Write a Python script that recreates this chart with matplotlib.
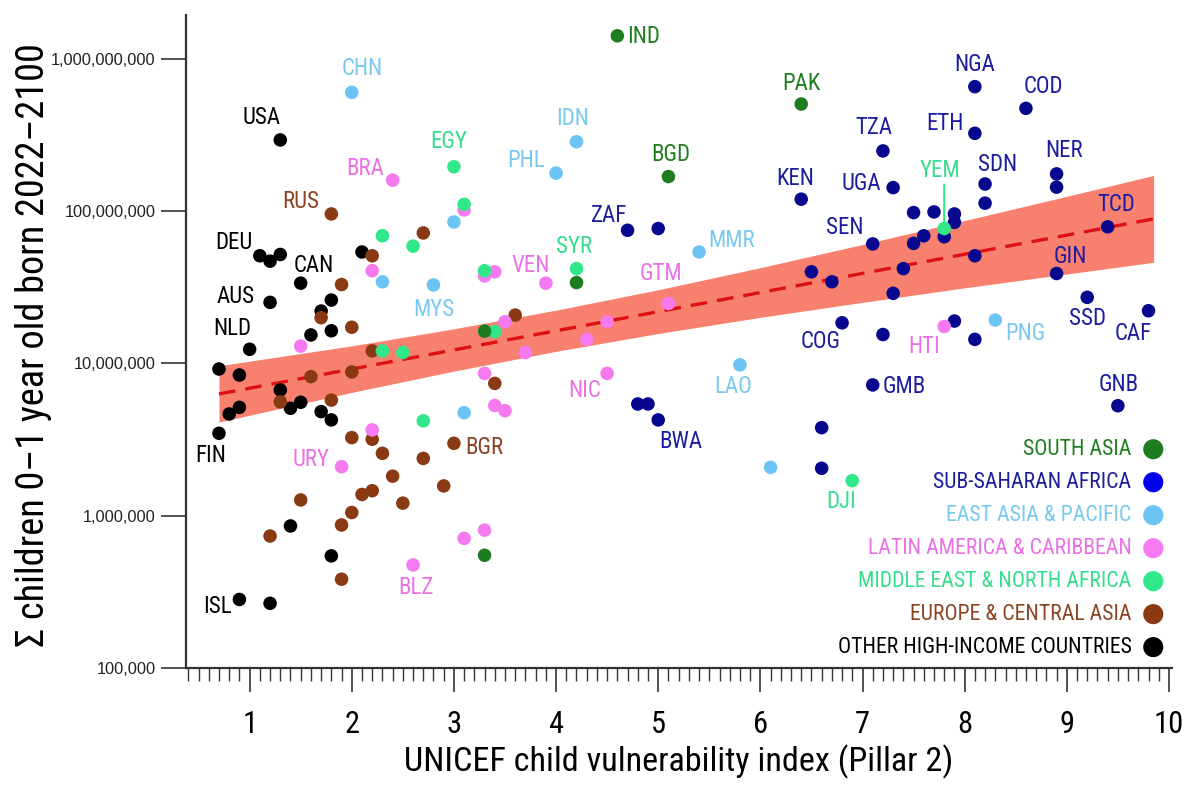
import matplotlib
matplotlib.use("Agg")
import matplotlib.pyplot as plt
from matplotlib.ticker import MultipleLocator, FixedLocator, FuncFormatter, NullLocator

plt.rcParams['font.family'] = ['Roboto Condensed', 'Open Sans Condensed', 'DejaVu Sans']
plt.rcParams['font.stretch'] = 'condensed'

# --- data (x = UNICEF child vulnerability index, y = children born 2022-2100)
# South Asia
sa_x = [4.6, 6.4, 5.1, 3.3, 4.2, 3.3]
sa_y = [1.42e9, 5.06e8, 1.69e8, 1.63e7, 3.4e7, 5.5e5]
sa_code = ['IND', 'PAK', 'BGD', '', '', '']

# Sub-Saharan Africa
ssa_x = [8.1, 8.6, 8.1, 7.2, 7.3, 6.4, 8.2, 8.2, 8.9, 8.9,
         7.5, 7.7, 7.9, 7.9, 7.8, 7.6, 7.5, 7.1, 8.1, 9.4,
         7.4, 6.5, 6.7, 8.9, 7.3, 9.2, 9.8, 6.8, 7.2, 7.9,
         8.1, 7.1, 9.5, 6.6, 6.6, 4.7, 5.0, 4.8, 4.9, 5.0]
ssa_y = [6.58e8, 4.74e8, 3.25e8, 2.49e8, 1.43e8, 1.2e8, 1.51e8, 1.13e8, 1.76e8, 1.44e8,
         9.8e7, 9.9e7, 9.6e7, 8.45e7, 6.8e7, 6.9e7, 6.15e7, 6.1e7, 5.1e7, 7.9e7,
         4.2e7, 4.0e7, 3.44e7, 3.9e7, 2.89e7, 2.72e7, 2.22e7, 1.85e7, 1.55e7, 1.9e7,
         1.44e7, 7.23e6, 5.28e6, 3.79e6, 2.05e6, 7.5e7, 7.7e7, 5.42e6, 5.42e6, 4.26e6]
ssa_code = ['NGA', 'COD', 'ETH', 'TZA', 'UGA', 'KEN', 'SDN', '', 'NER', '',
            '', '', '', '', '', '', '', 'SEN', '', 'TCD',
            '', '', '', 'GIN', '', 'SSD', 'CAF', 'COG', '', '',
            '', 'GMB', 'GNB', '', '', 'ZAF', '', '', '', 'BWA']

# East Asia & Pacific
eap_x = [2.0, 4.2, 4.0, 3.0, 2.3, 2.8, 5.4, 5.8, 8.3, 3.1, 6.1]
eap_y = [6.04e8, 2.86e8, 1.78e8, 8.5e7, 3.44e7, 3.28e7, 5.4e7, 9.8e6, 1.93e7, 4.75e6, 2.08e6]
eap_code = ['CHN', 'IDN', 'PHL', '', '', 'MYS', 'MMR', 'LAO', 'PNG', '', '']

# Latin America & Caribbean
lac_x = [2.4, 3.1, 2.2, 3.3, 3.4, 3.9, 1.5, 3.5, 3.7, 5.1, 4.5,
         4.3, 4.5, 3.3, 3.4, 3.5, 2.2, 1.9, 3.3, 3.1, 2.6, 7.8]
lac_y = [1.6e8, 1.02e8, 4.07e7, 3.76e7, 4.0e7, 3.37e7, 1.3e7, 1.88e7, 1.18e7, 2.48e7, 1.88e7,
         1.44e7, 8.6e6, 8.6e6, 5.3e6, 4.9e6, 3.66e6, 2.1e6, 8.05e5, 7.1e5, 4.75e5, 1.75e7]
lac_code = ['BRA', '', '', '', '', 'VEN', '', '', '', 'GTM', '',
            '', 'NIC', '', '', '', '', 'URY', '', '', 'BLZ', 'HTI']

# Middle East & North Africa
mena_x = [3.0, 3.1, 2.3, 2.6, 3.3, 4.2, 3.4, 2.3, 2.5, 2.7, 7.8, 6.9]
mena_y = [1.96e8, 1.11e8, 6.9e7, 5.9e7, 4.07e7, 4.2e7, 1.62e7, 1.21e7, 1.18e7, 4.2e6, 7.7e7, 1.7e6]
mena_code = ['EGY', '', '', '', '', 'SYR', '', '', '', '', 'YEM', 'DJI']

# Europe & Central Asia
eca_x = [1.8, 2.7, 2.2, 1.9, 1.7, 2.0, 3.6, 2.2, 1.6, 2.0, 3.4, 1.3, 1.8, 2.0,
         2.2, 3.0, 2.3, 2.7, 2.4, 2.9, 2.1, 2.2, 2.5, 1.5, 2.0, 1.9, 1.2, 1.9]
eca_y = [9.6e7, 7.2e7, 5.1e7, 3.3e7, 2.0e7, 1.73e7, 2.08e7, 1.21e7, 8.2e6, 8.8e6, 7.4e6, 5.6e6, 5.75e6, 3.26e6,
         3.18e6, 2.99e6, 2.57e6, 2.38e6, 1.82e6, 1.57e6, 1.38e6, 1.46e6, 1.21e6, 1.27e6, 1.05e6, 8.7e5, 7.36e5, 3.83e5]
eca_code = ['RUS', '', '', '', '', '', '', '', '', '', '', '', '', '',
            '', 'BGR', '', '', '', '', '', '', '', '', '', '', '', '']

# Other high-income countries
hic_x = [1.3, 2.1, 1.1, 1.2, 1.3, 1.5, 1.2, 1.8, 1.7, 1.6, 1.8, 1.0, 0.7,
         0.9, 1.3, 0.8, 0.9, 1.4, 1.5, 1.7, 1.8, 0.7, 1.4, 1.8, 0.9, 1.2]
hic_y = [2.94e8, 5.4e7, 5.1e7, 4.7e7, 5.2e7, 3.37e7, 2.52e7, 2.61e7, 2.21e7, 1.54e7, 1.64e7, 1.24e7, 9.2e6,
         8.4e6, 6.7e6, 4.66e6, 5.15e6, 5.08e6, 5.56e6, 4.83e6, 4.26e6, 3.48e6, 8.57e5, 5.45e5, 2.82e5, 2.66e5]
hic_code = ['USA', '', 'DEU', '', '', 'CAN', 'AUS', '', '', '', '', 'NLD', '',
            '', '', '', '', '', '', '', '', 'FIN', '', '', 'ISL', '']

# fitted trend and its confidence band
trend_x = [0.7, 9.85]
trend_y = [6.31e6, 8.91e7]
band_x = [0.7, 2, 3, 4, 5, 6, 7, 8, 9, 9.85]
band_lo = [4.12e6, 6.46e6, 8.91e6, 1.202e7, 1.574e7, 2.01e7, 2.52e7, 3.14e7, 3.87e7, 4.62e7]
band_hi = [9.66e6, 1.306e7, 1.69e7, 2.24e7, 3.05e7, 4.26e7, 6.05e7, 8.69e7, 1.253e8, 1.718e8]

region_names = ['SOUTH ASIA', 'SUB-SAHARAN AFRICA', 'EAST ASIA & PACIFIC',
                'LATIN AMERICA & CARIBBEAN', 'MIDDLE EAST & NORTH AFRICA',
                'EUROPE & CENTRAL ASIA', 'OTHER HIGH-INCOME COUNTRIES']

# --- styles
dot_col = {'SA': '#1e7d1e', 'SSA': '#08088f', 'EAP': '#6cc4f4', 'LAC': '#f57af0',
           'MENA': '#30e88a', 'ECA': '#8a3a12', 'HIC': '#000000'}
txt_col = {'SA': '#1e7d1e', 'SSA': '#1c1c9e', 'EAP': '#78c8f0', 'LAC': '#ea70e6',
           'MENA': '#35de8c', 'ECA': '#8b4322', 'HIC': '#000000'}
legend_dot = ['#1e7d1e', '#0000ee', '#6cc4f4', '#f57af0', '#30e88a', '#8a3a12', '#000000']
legend_txt = ['#1e7d1e', '#1c1c9e', '#78c8f0', '#ea70e6', '#35de8c', '#8b4322', '#000000']

# label offsets in pixels (dx, dy) and horizontal alignment
lab_off = {
    'IND': (10, -1, 'left'), 'PAK': (0, 21, 'center'), 'BGD': (2, 22, 'center'),
    'CHN': (10, 24, 'center'), 'IDN': (-4, 23, 'center'), 'PHL': (-11, 13, 'right'),
    'MYS': (0, -25, 'center'), 'MMR': (9, 11, 'left'), 'LAO': (-7, -22, 'center'),
    'PNG': (10, -13, 'left'),
    'BRA': (-9, 12, 'right'), 'VEN': (-15, 18, 'center'), 'GTM': (-7, 30, 'center'),
    'NIC': (-23, -17, 'center'), 'URY': (-12, 7, 'right'), 'BLZ': (3, -23, 'center'),
    'HTI': (-20, -20, 'center'),
    'EGY': (-5, 25, 'center'), 'SYR': (-2, 22, 'center'), 'YEM': (-4, 58, 'center'),
    'DJI': (-11, -21, 'center'),
    'RUS': (-12, 12, 'right'), 'BGR': (11, -4, 'left'),
    'USA': (-19, 22, 'center'), 'DEU': (-7, 13, 'right'), 'CAN': (13, 18, 'center'),
    'AUS': (-15, 6, 'right'), 'NLD': (-17, 21, 'center'), 'FIN': (-8, -22, 'center'),
    'ISL': (-8, -7, 'right'),
    'NGA': (0, 22, 'center'), 'COD': (17, 22, 'center'), 'ETH': (-11, 10, 'right'),
    'TZA': (-9, 23, 'center'), 'KEN': (-6, 21, 'center'), 'UGA': (-12, 4, 'right'),
    'SDN': (12, 19, 'center'), 'NER': (7, 23, 'center'), 'ZAF': (-19, 15, 'center'),
    'SEN': (-28, 16, 'center'), 'TCD': (9, 22, 'center'), 'GIN': (14, 17, 'center'),
    'COG': (-21, -19, 'center'), 'SSD': (0, -21, 'center'), 'CAF': (-15, -23, 'center'),
    'GMB': (10, -2, 'left'), 'GNB': (1, 21, 'center'), 'BWA': (23, -22, 'center'),
}

fig = plt.figure(figsize=(11.93, 7.91), dpi=100)
ax = fig.add_axes([186 / 1193, 123 / 791, 986 / 1193, 653 / 791])

ax.set_yscale('log')
ax.set_xlim(0.377, 10.03)
ax.set_ylim(1e5, 1.945e9)

ax.fill_between(band_x, band_lo, band_hi, color='#f7806e', lw=0, zorder=1)
ax.plot(trend_x, trend_y, color='#dd1111', lw=2.4, ls=(0, (5, 3)), zorder=2)

regions = [('HIC', hic_x, hic_y, hic_code), ('ECA', eca_x, eca_y, eca_code),
           ('SSA', ssa_x, ssa_y, ssa_code), ('EAP', eap_x, eap_y, eap_code),
           ('LAC', lac_x, lac_y, lac_code), ('MENA', mena_x, mena_y, mena_code),
           ('SA', sa_x, sa_y, sa_code)]

for key, xs, ys, codes in regions:
    ax.scatter(xs, ys, s=95, color=dot_col[key], edgecolors='none', zorder=3)
    for x, y, c in zip(xs, ys, codes):
        if not c:
            continue
        dx, dy, ha = lab_off[c]
        ax.annotate(c, (x, y), xytext=(dx, dy), textcoords='offset pixels',
                    ha=ha, va='center', fontsize=16.5, color=txt_col[key], zorder=4)
        if c == 'YEM':
            ax.annotate('', (x, y), xytext=(0, 44), textcoords='offset pixels',
                        arrowprops=dict(arrowstyle='-', color=dot_col['MENA'], lw=1.5,
                                        shrinkA=0, shrinkB=0), zorder=4)

# legend (text right aligned, dot on the right)
for i, name in enumerate(region_names):
    yy = 0.335 - i * 0.0505
    ax.text(0.959, yy, name, transform=ax.transAxes, ha='right', va='center',
            fontsize=15.7, color=legend_txt[i])
    ax.scatter([0.981], [yy], s=210, color=legend_dot[i], transform=ax.transAxes,
               edgecolors='none', clip_on=False, zorder=5)

# axes styling
for side in ['top', 'right']:
    ax.spines[side].set_visible(False)
ax.spines['left'].set_linewidth(1.6)
ax.spines['bottom'].set_linewidth(1.6)
ax.spines['left'].set_color('#333333')
ax.spines['bottom'].set_color('#333333')

ax.yaxis.set_major_locator(FixedLocator([1e5, 1e6, 1e7, 1e8, 1e9]))
ax.yaxis.set_minor_locator(NullLocator())
ax.yaxis.set_major_formatter(FuncFormatter(lambda v, p: '{:,.0f}'.format(v)))
ax.tick_params(axis='y', which='major', length=18, width=1.2, color='#333333', pad=4)
for lab in ax.get_yticklabels():
    lab.set_fontfamily(['Liberation Sans', 'DejaVu Sans'])
    lab.set_fontstretch('normal')
    lab.set_fontsize(11.8)
    lab.set_color('#222222')

ax.xaxis.set_major_locator(MultipleLocator(1))
ax.xaxis.set_minor_locator(MultipleLocator(0.1))
ax.tick_params(axis='x', which='major', length=17, width=1.2, color='#333333',
               labelsize=22, pad=13)
ax.tick_params(axis='x', which='minor', length=9, width=1.0, color='#333333')

ax.set_xlabel('UNICEF child vulnerability index (Pillar 2)', fontsize=24.6, labelpad=4)
ax.set_ylabel('\u03a3 children 0\u20131 year old born 2022\u20132100', fontsize=27.5, va='center')
ax.yaxis.set_label_coords(-0.155, 0.495)

fig.savefig('out.png', dpi=100)
